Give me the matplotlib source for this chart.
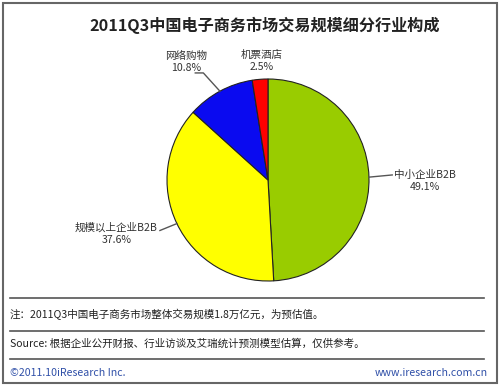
import matplotlib
matplotlib.use('Agg')
import numpy as np
from matplotlib import pyplot as plt
from matplotlib.patches import Rectangle
from matplotlib.lines import Line2D

plt.rcParams['font.family'] = ['Noto Sans CJK SC', 'DejaVu Sans']

# data
names = ['中小企业B2B', '规模以上企业B2B', '网络购物', '机票酒店']
shares = [49.1, 37.6, 10.8, 2.5]
colors = ['#99CC00', '#FFFF00', '#0A0AF0', '#FF0000']
title = '2011Q3中国电子商务市场交易规模细分行业构成'
note = '注：2011Q3中国电子商务市场整体交易规模1.8万亿元，为预估值。'
source = 'Source: 根据企业公开财报、行业访谈及艾瑞统计预测模型估算，仅供参考。'

W, H = 500, 386
fig = plt.figure(figsize=(W / 100, H / 100), dpi=100)

def fx(px):
    return px / W

def fy(py):
    return 1 - py / H

# pie axes, centre (268,180), radius ~101 px
ax = fig.add_axes([fx(167), fy(281), fx(369) - fx(167), fy(79) - fy(281)])
wedges, _ = ax.pie(shares, colors=colors, startangle=90, counterclock=False,
                   wedgeprops=dict(edgecolor='#222222', linewidth=0.8))
ax.set_aspect('auto')
ax.set_xlim(-1, 1)
ax.set_ylim(-1, 1)
ax.axis('off')

# label centres and leader elbow points (data coords)
label_pos = [(1.55, -0.01), (-1.50, -0.53), (-0.81, 1.17), (-0.06, 1.18)]
leader_pts = [[(1.23, 0.05)], [(-1.07, -0.50)], [(-0.64, 1.06), (-0.72, 1.06)], []]
for w, name, val, (tx, ty), pts in zip(wedges, names, shares, label_pos, leader_pts):
    ax.text(tx, ty, '%s\n%.1f%%' % (name, val), ha='center', va='center',
            fontsize=7.6, color='#333333', linespacing=1.25)
    if pts:
        ang = np.deg2rad((w.theta1 + w.theta2) / 2)
        xs = [np.cos(ang)] + [p[0] for p in pts]
        ys = [np.sin(ang)] + [p[1] for p in pts]
        ax.plot(xs, ys, color='#555555', lw=1.0, clip_on=False)

# title
fig.text(fx(265), fy(25), title, ha='center', va='center', fontsize=11.6,
         fontweight='bold', color='#222222')

# separators
for py in [298, 331, 359]:
    fig.add_artist(Line2D([fx(10), fx(484)], [fy(py), fy(py)], color='#555555', lw=1.2))

fs = 7.6
fig.text(fx(10), fy(314), note, ha='left', va='center', fontsize=fs, color='#222222')
fig.text(fx(10), fy(344), source, ha='left', va='center', fontsize=fs, color='#222222')
fig.text(fx(10), fy(373), '©2011.10iResearch Inc.', ha='left', va='center', fontsize=fs, color='#3050A8')
fig.text(fx(488), fy(373), 'www.iresearch.com.cn', ha='right', va='center', fontsize=fs, color='#3050A8')

# outer border
fig.add_artist(Rectangle((fx(3), fy(383)), fx(494), fy(3) - fy(383), fill=False,
                         edgecolor='#666666', lw=1.5, transform=fig.transFigure))

fig.savefig('out.png', dpi=100)
